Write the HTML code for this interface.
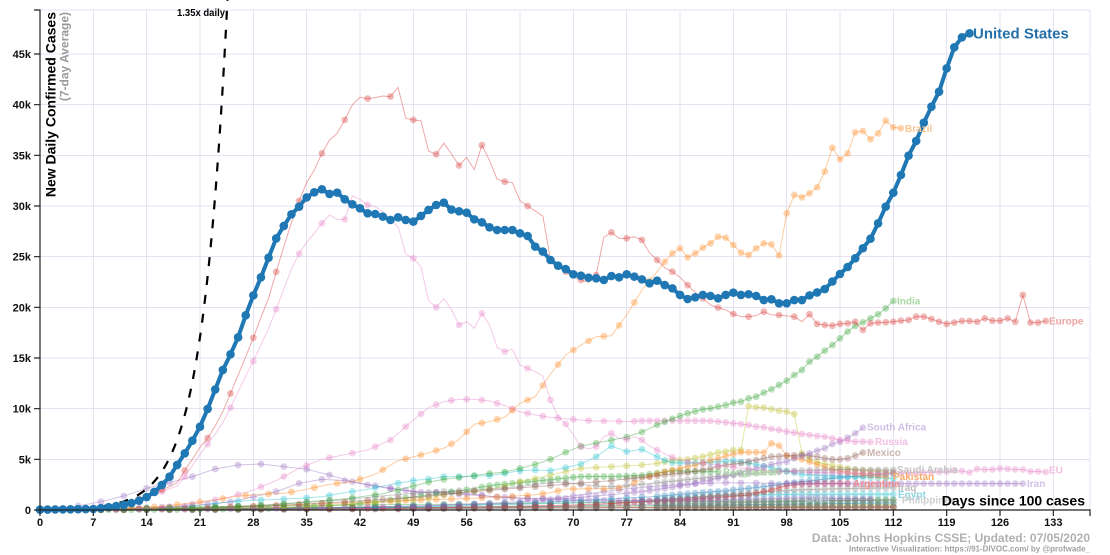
<!DOCTYPE html>
<html><head><meta charset="utf-8">
<style>
html,body{margin:0;padding:0;background:#fff;width:1110px;height:555px;overflow:hidden;}
svg{display:block;font-family:"Liberation Sans",Arial,sans-serif;}
</style></head><body>
<svg id="c" width="1110" height="555" viewBox="0 0 1110 555" xmlns="http://www.w3.org/2000/svg">
<rect x="0" y="0" width="1110" height="555" fill="#ffffff"/>
<g stroke="#e6e2f2" stroke-width="1" shape-rendering="crispEdges">
<line x1="93.33" y1="10" x2="93.33" y2="510"/><line x1="146.67" y1="10" x2="146.67" y2="510"/>
<line x1="200" y1="10" x2="200" y2="510"/><line x1="253.33" y1="10" x2="253.33" y2="510"/>
<line x1="306.67" y1="10" x2="306.67" y2="510"/><line x1="360" y1="10" x2="360" y2="510"/>
<line x1="413.33" y1="10" x2="413.33" y2="510"/><line x1="466.67" y1="10" x2="466.67" y2="510"/>
<line x1="520" y1="10" x2="520" y2="510"/><line x1="573.33" y1="10" x2="573.33" y2="510"/>
<line x1="626.67" y1="10" x2="626.67" y2="510"/><line x1="680" y1="10" x2="680" y2="510"/>
<line x1="733.33" y1="10" x2="733.33" y2="510"/><line x1="786.67" y1="10" x2="786.67" y2="510"/>
<line x1="840" y1="10" x2="840" y2="510"/><line x1="893.33" y1="10" x2="893.33" y2="510"/>
<line x1="946.67" y1="10" x2="946.67" y2="510"/><line x1="1000" y1="10" x2="1000" y2="510"/>
<line x1="1053.33" y1="10" x2="1053.33" y2="510"/><line x1="1090" y1="10" x2="1090" y2="510"/>
<line x1="40" y1="459.33" x2="1090" y2="459.33"/><line x1="40" y1="408.67" x2="1090" y2="408.67"/>
<line x1="40" y1="358" x2="1090" y2="358"/><line x1="40" y1="307.33" x2="1090" y2="307.33"/>
<line x1="40" y1="256.67" x2="1090" y2="256.67"/><line x1="40" y1="206" x2="1090" y2="206"/>
<line x1="40" y1="155.33" x2="1090" y2="155.33"/><line x1="40" y1="104.67" x2="1090" y2="104.67"/>
<line x1="40" y1="54" x2="1090" y2="54"/><line x1="40" y1="10" x2="1090" y2="10"/>
</g>
<g id="series"></g>
<path id="dash" fill="none" stroke="#000" stroke-width="2.2" stroke-dasharray="9,10"/>
<g id="us"></g>
<g fill="none" stroke="#222" stroke-width="1.2">
<path d="M40,516V510H1090V516"/>
<path d="M34,10H40V510H34"/>
<path d="M93.33,510v6M146.67,510v6M200,510v6M253.33,510v6M306.67,510v6M360,510v6M413.33,510v6M466.67,510v6M520,510v6M573.33,510v6M626.67,510v6M680,510v6M733.33,510v6M786.67,510v6M840,510v6M893.33,510v6M946.67,510v6M1000,510v6M1053.33,510v6"/>
<path d="M34,459.33h6M34,408.67h6M34,358h6M34,307.33h6M34,256.67h6M34,206h6M34,155.33h6M34,104.67h6M34,54h6"/>
</g>
<g font-size="11" font-weight="bold" fill="#111" text-anchor="middle">
<text x="40" y="526">0</text><text x="93.33" y="526">7</text><text x="146.67" y="526">14</text>
<text x="200" y="526">21</text><text x="253.33" y="526">28</text><text x="306.67" y="526">35</text>
<text x="360" y="526">42</text><text x="413.33" y="526">49</text><text x="466.67" y="526">56</text>
<text x="520" y="526">63</text><text x="573.33" y="526">70</text><text x="626.67" y="526">77</text>
<text x="680" y="526">84</text><text x="733.33" y="526">91</text><text x="786.67" y="526">98</text>
<text x="840" y="526">105</text><text x="893.33" y="526">112</text><text x="946.67" y="526">119</text>
<text x="1000" y="526">126</text><text x="1053.33" y="526">133</text>
</g>
<g font-size="11" font-weight="bold" fill="#111" text-anchor="end">
<text x="31" y="514">0</text><text x="31" y="463.3">5k</text><text x="31" y="412.7">10k</text>
<text x="31" y="362">15k</text><text x="31" y="311.3">20k</text><text x="31" y="260.7">25k</text>
<text x="31" y="210">30k</text><text x="31" y="159.3">35k</text><text x="31" y="108.7">40k</text>
<text x="31" y="58">45k</text>
</g>
<text transform="translate(55.5,12) rotate(-90)" text-anchor="end" font-size="14" font-weight="bold" fill="#000">New Daily Confirmed Cases</text>
<text transform="translate(68.5,12) rotate(-90)" text-anchor="end" font-size="12" font-weight="bold" fill="#9a9a9a">(7-day Average)</text>
<text x="177" y="16" font-size="10" font-weight="bold" fill="#000" textLength="48" lengthAdjust="spacingAndGlyphs">1.35x daily</text>
<g font-size="10" font-weight="bold">
<text x="905" y="132" fill="#fcc590">Brazil</text>
<text x="897" y="304.5" fill="#a9d9a3">India</text>
<text x="1049" y="324.5" fill="#eda3a3">Europe</text>
<text x="867" y="430.5" fill="#cfc0e6">South Africa</text>
<text x="875" y="445" fill="#f2bde3">Russia</text>
<text x="867" y="456" fill="#cbb4ae">Mexico</text>
<text x="723" y="475.5" fill="#a9d9a3">Bangladesh</text>
<text x="897" y="473" fill="#c4c4c4">Saudi Arabia</text>
<text x="893" y="480" fill="#f6ab6b">Pakistan</text>
<text x="853" y="487" fill="#ec8e8e">Argentina</text>
<text x="898" y="491" fill="#bdbdbd">Iraq</text>
<text x="898" y="498" fill="#8ed6e2">Egypt</text>
<text x="902" y="503.5" fill="#cfcfcf">Philippines</text>
<text x="805" y="502" fill="#b8c0d6">Chile</text>
<text x="1027" y="487" fill="#cfc0e6">Iran</text>
<text x="1049" y="473.5" fill="#f2bde3">EU</text>
</g>
<text x="973" y="38.5" font-size="15" font-weight="bold" fill="#2470a8">United States</text>
<text x="1085" y="505.5" text-anchor="end" font-size="14" font-weight="bold" fill="#000">Days since 100 cases</text>
<text x="1090" y="542" text-anchor="end" font-size="12" font-weight="bold" fill="#b0b0b0">Data: Johns Hopkins CSSE; Updated: 07/05/2020</text>
<text x="1090" y="551.5" text-anchor="end" font-size="8" font-weight="bold" fill="#a0a0a0" textLength="241" lengthAdjust="spacingAndGlyphs">Interactive Visualization: https://91-DIVOC.com/ by @profwade_</text>
</svg>
<script>
(function(){
var NS="http://www.w3.org/2000/svg";
function X(d){return 40+d*53.3333/7;}
function Y(v){return 510-v*50.6667/5000;}
function interp(k){
  var pts=[];for(var i=0;i<k.length;i+=2)pts.push([k[i],k[i+1]]);
  var end=pts[pts.length-1][0],out=[],j=0;
  for(var d=0;d<=end;d++){
    while(j<pts.length-2&&pts[j+1][0]<d)j++;
    var a=pts[j],b=pts[j+1]||pts[j];
    var t=b[0]===a[0]?0:(d-a[0])/(b[0]-a[0]);t=Math.max(0,Math.min(1,t));
    out.push(a[1]+(b[1]-a[1])*t);
  }
  return out;
}
function showDot(d,E){if(d>=E-31)return true;if(d>=E-65)return (E-31-d)%2===0;return (E-65-d)%3===0;}
var C={blue:"#1f77b4",orange:"#ff7f0e",green:"#2ca02c",red:"#d62728",purple:"#9467bd",brown:"#8c564b",pink:"#e377c2",gray:"#7f7f7f",olive:"#bcbd22",cyan:"#17becf"};
var S=[
 ["brown",[0,10,10,100,20,150,50,200,80,220,112,260]],
 ["red",[0,10,10,120,40,180,80,250,112,320]],
 ["olive",[0,10,10,150,30,250,60,300,90,400,112,500]],
 ["blue",[0,5,30,200,60,300,90,500,112,700]],
 ["green",[0,5,20,300,40,500,60,600,80,800,100,900,112,1000]],
 ["gray",[0,5,50,150,112,300]],
 ["gray",[0,5,20,100,30,200,40,250,50,250,60,300,70,400,80,550,90,700,100,850,112,990]],
 ["cyan",[0,5,20,30,30,100,40,200,50,300,60,500,70,700,80,1000,85,1200,90,1400,95,1500,100,1550,112,1550]],
 ["gray",[0,5,30,50,50,100,60,200,70,400,75,600,80,900,85,1200,90,1500,95,1800,100,2000,105,2100,112,2200]],
 ["blue",[0,5,20,80,30,150,40,250,50,400,60,600,70,900,80,1300,85,1600,90,1900,95,2300,100,2800,105,3200,110,3500,112,3600]],
 ["red",[0,5,20,30,30,80,40,120,50,200,60,350,70,500,75,650,79,820,85,1050,90,1300,93,1480,95,1800,96,2000,98,2400,100,2560,103,2620,106,2630]],
 ["purple",[0,30,10,100,20,400,25,800,28,1300,31,1810,34,2630,37,3030,40,2900,43,2470,46,2100,49,1810,52,1750,56,1500,60,1300,64,1100,68,1200,72,1600,76,2000,80,2300,85,2550,90,2700,95,2650,100,2600,129,2600]],
 ["purple",[0,50,3,200,5,400,8,820,11,1380,14,2140,17,2700,20,3290,23,4050,26,4440,29,4540,32,4280,35,4020,38,3450,41,2800,44,2400,47,2040,50,1750,53,1750,56,1600,60,1300,65,1100,70,1000,80,900,90,1000,100,1200,109,1100]],
 ["green",[0,5,20,50,30,150,40,500,45,900,50,1400,53,1710,56,2000,59,2400,63,2700,67,3000,71,3300,75,3300,79,3400,83,3880,86,3800,89,3770]],
 ["olive",[0,5,20,100,30,200,40,500,50,1000,53,1500,55,1710,57,1850,59,2040,61,2300,63,2800,65,3100,67,3450,69,3800,71,4110,73,4200,75,4280,77,4360,79,4440,81,4600,83,4870,85,5000,87,5260,89,5660,90,5760,91,5920,92,5920,93,10260,94,10130,95,10100,96,9950,97,9800,98,9700,99,9470,100,5590,101,5000,102,4700,104,4400,106,4100,108,3900,110,3800,112,3700]],
 ["cyan",[0,10,15,200,20,400,25,820,28,950,31,1050,34,1150,37,1310,40,1710,43,2040,46,2530,49,2900,51,3060,53,3290,55,3300,57,3350,59,3390,61,3620,63,3880,65,3950,67,3880,69,4180,71,4540,73,5260,75,6320,77,5760,79,5990,80,5600,81,5260,82,4900,83,4670,85,4610,88,4700,91,4870,94,4500,97,4000,100,3500,103,3400,106,3300,110,3200,112,3100]],
 ["orange",[0,10,20,150,30,400,40,700,50,1000,55,1100,61,1310,65,1500,67,1710,69,2070,73,2100,75,2100,77,2300,79,3060,81,3550,82,3780,84,4110,86,4440,88,4870,90,5330,92,5700,94,5700,95,5660,96,6580,97,6350,98,5360,100,5000,102,4500,104,4000,106,3700,108,3500,111,3290]],
 ["gray",[0,10,20,200,30,500,40,1000,45,1400,50,1700,55,1900,60,2100,63,2300,67,2700,69,2700,71,2530,73,2370,75,2300,80,2600,85,3000,90,3400,95,3700,100,3900,105,4000,108,3950,112,3950]],
 ["brown",[0,10,20,150,30,400,40,800,50,1300,55,1700,60,2000,65,2300,70,2600,75,2900,80,3300,85,3700,87,3950,88,4110,90,4440,92,4610,93,4770,94,4930,95,5100,96,5260,97,5300,98,5360,99,5400,100,5430,101,5350,102,5260,103,5100,104,5000,105,5000,106,5100,107,5360,108,5660]],
 ["purple",[0,5,20,60,30,150,40,250,50,400,60,700,65,900,70,1200,75,1500,80,1900,85,2500,87,2800,90,3300,93,3900,96,4500,98,4770,99,5100,100,5360,101,5590,102,5860,103,6090,104,6510,105,6740,106,7140,107,7570,108,8120]],
 ["pink",[0,20,10,80,15,200,18,400,21,700,25,1300,28,1970,31,2900,34,4110,37,5000,40,5460,43,5920,46,6910,49,8880,51,10100,53,10690,55,10920,57,10920,59,10760,61,10300,63,9700,65,9380,67,9140,69,9010,71,8880,73,8780,75,8780,77,8710,79,8810,86,8810,87,8810,88,8780,89,8720,90,8650,91,8550,92,8490,93,8390,94,8220,95,8160,96,7990,97,7900,98,7730,99,7630,100,7500,101,7400,102,7300,103,7230,104,7070,105,6910,106,6840,107,6740,108,6740,109,6710]],
 ["green",[0,5,10,40,15,80,20,150,25,300,30,500,35,800,40,1100,45,1600,51,2750,53,3030,55,3200,57,3400,59,3600,61,3750,63,4100,65,4500,67,5000,69,5700,71,6300,73,6600,75,6900,77,7200,79,7700,81,8400,83,9000,84,9280,85,9540,87,9930,88,10030,89,10200,90,10360,91,10590,92,10690,93,11020,94,11180,95,11580,96,11910,97,12340,98,12760,99,13320,100,13820,101,14640,102,15130,103,15720,104,16280,105,16940,106,17600,107,18160,108,18520,109,18910,110,19310,111,19900,112,20630]],
 ["orange",[0,20,5,50,10,150,15,300,20,700,23,1000,26,1380,29,1550,32,1650,35,2040,38,2530,41,2800,44,3520,47,4870,50,5430,53,6090,55,6970,57,8460,59,8720,61,9150,63,10530,65,11180,67,13420,69,15300,71,16280,73,17100,75,17200,77,19240,79,21710,81,23520,82,24500,83,25330,84,25830,85,24930,86,25330,87,25890,88,26320,89,26970,90,26880,91,26150,92,25390,93,25160,94,25830,95,26320,96,26220,97,25100,98,29280,99,31090,100,30860,101,31250,102,31850,103,33390,104,35750,105,34600,106,35190,107,37270,108,37400,109,36580,110,37170,111,38420,112,37770,113,37670]],
 ["pink",[0,20,4,50,8,200,11,500,13,900,15,1500,17,2100,18,2370,19,3300,20,4400,21,5490,22,6500,23,7500,24,8640,25,10100,26,11700,27,13220,28,14700,29,16300,30,17900,31,19800,32,21800,33,23750,34,25300,35,26400,36,27300,37,28300,38,29110,39,28680,40,28680,41,30990,42,30660,43,30100,44,29930,45,29440,46,28620,47,27960,48,25260,49,24840,50,24010,51,20660,52,20000,53,20850,54,19800,55,18260,56,18590,57,17930,58,19410,59,18260,60,16060,61,15630,62,15860,63,14310,64,13980,65,13650,66,13220,67,10860,68,9210,69,8490,70,7400,71,6250,72,6020,73,6250,74,7230,75,7570,76,7070,77,6970,78,7230,79,6910,80,6320,81,5920,82,5530,83,5200,84,4930,85,4750,88,4500,91,4200,95,3900,100,3750,105,3650,110,3600,115,3650,119,3780,120,3900,121,3850,122,3700,123,4050,124,4000,125,4000,126,4100,127,4050,128,4000,129,4000,130,3800,131,3800,132,3750]],
 ["red",[0,20,4,60,8,250,11,600,13,1100,15,1700,17,2300,18,2700,19,3900,20,5000,21,6190,22,7100,23,8300,24,9700,25,11500,26,13300,27,15130,28,17000,29,19000,30,20890,31,23500,32,26000,33,28350,34,30500,35,32300,36,33550,37,35200,38,36500,39,37170,40,38500,41,40000,42,40730,43,40600,44,40700,45,40860,46,40800,47,41700,48,38660,49,38500,50,38400,51,35430,52,35100,53,36200,54,35130,55,34000,56,34800,57,33600,58,36000,59,34500,60,32630,61,32400,62,32300,63,30530,64,30000,65,29500,66,29010,67,24670,68,24010,69,23520,70,23000,71,22700,72,22470,73,23190,74,26910,75,27400,76,26810,77,26810,78,26970,79,26650,80,25390,81,24670,82,23910,83,23520,84,22960,85,22200,86,21480,87,20890,88,20230,89,19970,90,19740,91,19340,92,19080,93,19080,94,19180,95,19570,96,19240,97,19240,98,19150,99,19080,100,18580,101,19310,102,18360,103,18260,104,18190,105,18360,106,18420,107,18580,108,17760,109,18420,110,18490,111,18520,112,18580,113,18680,114,18750,115,19080,116,19080,117,18850,118,18580,119,18360,120,18490,121,18650,122,18650,123,18580,124,18910,125,18680,126,18680,127,18910,128,18580,129,21220,130,18490,131,18490,132,18650]]
];
var g=document.getElementById("series");
S.forEach(function(s){
  var col=C[s[0]],vals=interp(s[1]),E=vals.length-1,d="";
  for(var i=0;i<=E;i++){d+=(i?"L":"M")+X(i).toFixed(2)+","+Y(vals[i]).toFixed(2);}
  var p=document.createElementNS(NS,"path");
  p.setAttribute("d",d);p.setAttribute("fill","none");p.setAttribute("stroke",col);
  p.setAttribute("stroke-opacity","0.4");p.setAttribute("stroke-width","1");
  g.appendChild(p);
  for(var i=0;i<=E;i++){
    if(!showDot(i,E))continue;
    var c=document.createElementNS(NS,"circle");
    c.setAttribute("cx",X(i).toFixed(2));c.setAttribute("cy",Y(vals[i]).toFixed(2));
    c.setAttribute("r","3.4");c.setAttribute("fill",col);c.setAttribute("fill-opacity","0.33");
    g.appendChild(c);
  }
});
var dd="",first=true;
for(var t=8;t<=25.2;t+=0.05){
  var v=50300*Math.pow(1.35,t-24.6),y=Y(v);
  dd+=(first?"M":"L")+X(t).toFixed(2)+","+y.toFixed(2);first=false;
  if(y<-3)break;
}
document.getElementById("dash").setAttribute("d",dd);
var US=[30,40,50,60,70,80,90,100,180,280,390,500,680,920,1280,1780,2470,3290,4450,5590,6840,8220,9970,11900,13820,15360,17040,19210,21180,22960,24900,26800,28030,29180,29930,30850,31350,31650,31190,31320,30660,30170,29770,29280,29210,28950,28620,28880,28620,28460,29020,29610,30100,30330,29650,29480,29340,28680,28390,27900,27630,27630,27630,27300,27040,25990,25500,24670,24110,23780,23260,23120,22930,22860,22700,23090,22960,23260,23030,22760,22370,22630,22200,21870,21220,20820,20990,21220,21120,20890,21220,21450,21220,21290,21120,20720,20790,20400,20400,20720,20720,21180,21470,21800,22550,23290,23980,24840,25830,26770,28290,29930,31310,33060,34970,36420,38220,39800,41280,43590,45660,46650,47040];
var ug=document.getElementById("us"),ud="";
for(var i=0;i<US.length;i++){ud+=(i?"L":"M")+X(i).toFixed(2)+","+Y(US[i]).toFixed(2);}
var up=document.createElementNS(NS,"path");
up.setAttribute("d",ud);up.setAttribute("fill","none");up.setAttribute("stroke","#1f77b4");
up.setAttribute("stroke-width","4");up.setAttribute("stroke-linejoin","round");
ug.appendChild(up);
for(var i=0;i<US.length;i++){
  var c=document.createElementNS(NS,"circle");
  c.setAttribute("cx",X(i).toFixed(2));c.setAttribute("cy",Y(US[i]).toFixed(2));
  c.setAttribute("r","4.3");c.setAttribute("fill","#1f77b4");
  ug.appendChild(c);
}
})();
</script>
</body></html>
